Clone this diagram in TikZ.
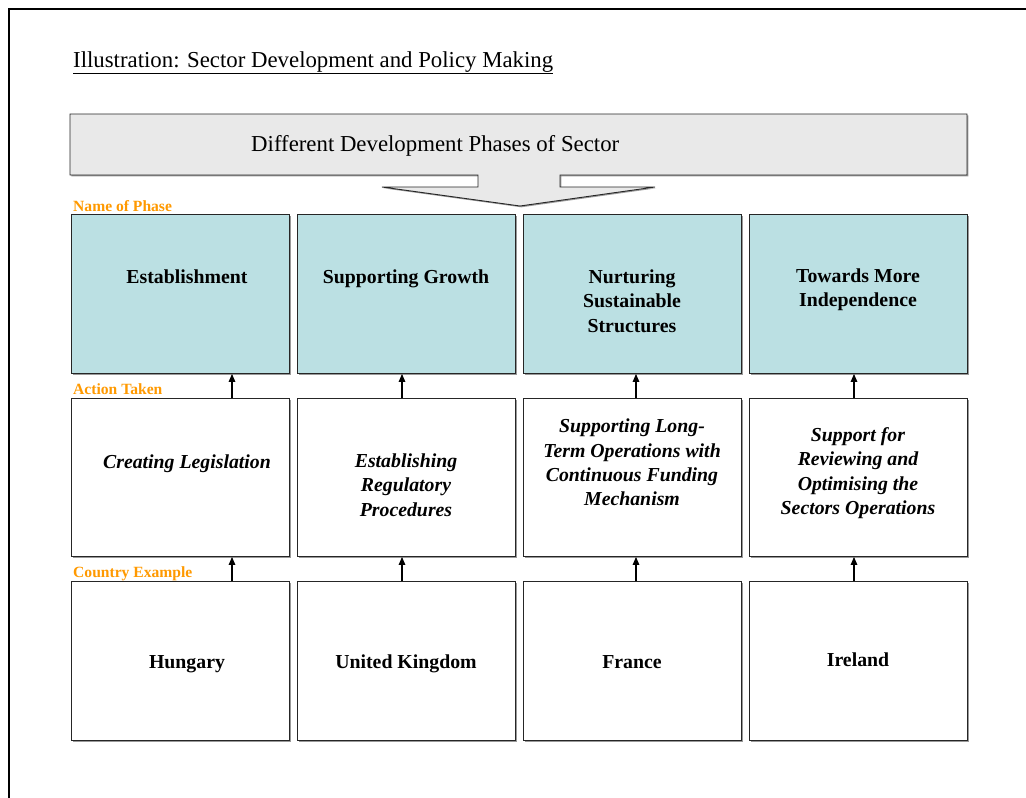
\documentclass[tikz,border=0pt]{standalone}
\usepackage{fontspec}
\setmainfont{Liberation Serif}
\usetikzlibrary{arrows.meta,shadows}
\definecolor{phasefill}{RGB}{187,224,227}
\definecolor{bannerfill}{RGB}{233,233,233}
\definecolor{lblorange}{RGB}{255,153,0}
\begin{document}
\begin{tikzpicture}[x=1pt,y=-1pt,
  box/.style={draw=black!85, line width=0.9pt, rectangle, inner sep=0pt,
    minimum width=218pt, anchor=north west,
    drop shadow={shadow xshift=1.3pt, shadow yshift=-1.3pt, fill=black!40, opacity=1}},
  phasebox/.style={box, fill=phasefill, minimum height=159pt},
  actbox/.style={box, fill=white, minimum height=158pt},
  ctrybox/.style={box, fill=white, minimum height=159pt},
  boldtxt/.style={font=\fontsize{19.8}{24.4}\selectfont\bfseries, align=center, inner sep=0pt},
  ittxt/.style={font=\fontsize{19.8}{24.4}\selectfont\bfseries\itshape, align=center, inner sep=0pt},
  lbl/.style={font=\fontsize{15.6}{18}\selectfont\bfseries, text=lblorange, anchor=base west, inner sep=0pt},
  arr/.style={line width=1.3pt, -{Triangle[length=8pt,width=6.5pt]}}
]
\useasboundingbox (0,0) rectangle (1026,798);
% outer frame
\draw[line width=1.6pt] (9,798) -- (9,9) -- (1026,9);
% title
\node[anchor=base west, inner sep=0pt, font=\fontsize{22.8}{26}\selectfont] (title) at (73,67)
  {\underline{Illustration: Sector Development and Policy Making}};
% banner callout
\draw[fill=bannerfill, draw=black!85, line width=0.9pt,
  drop shadow={shadow xshift=1.3pt, shadow yshift=-1.3pt, fill=black!40, opacity=1}]
  (70,114) -- (967,114) -- (967,175) -- (560,175) -- (560,187) -- (655,187)
  -- (520,206) -- (382,187) -- (478,187) -- (478,175) -- (70,175) -- cycle;
\node[anchor=base west, inner sep=0pt, font=\fontsize{22.8}{26}\selectfont] (banner) at (251,151)
  {Different Development Phases of Sector};
% labels
\node[lbl] (lphase) at (73,211) {Name of Phase};
\node[lbl] (laction) at (73,394) {Action Taken};
\node[lbl] (lcountry) at (73,577) {Country Example};
% boxes
\foreach \i/\x in {1/71,2/297,3/523,4/749}{
  \node[phasebox] (ph\i) at (\x,214) {};
  \node[actbox] (act\i) at (\x,398) {};
  \node[ctrybox] (ct\i) at (\x,581) {};
}
% phase texts
\node[boldtxt] (tph1) at (187,277) {Establishment};
\node[boldtxt] (tph2) at (406,279) {Supporting Growth};
\node[boldtxt] (tph3) at (632,301) {Nurturing\\Sustainable\\Structures};
\node[boldtxt] (tph4) at (858,290) {Towards More\\Independence};
% action texts
\node[ittxt] (tact1) at (187,464) {Creating Legislation};
\node[ittxt] (tact2) at (406,485) {Establishing\\Regulatory\\Procedures};
\node[ittxt] (tact3) at (632,462.5) {Supporting Long-\\Term Operations with\\Continuous Funding\\Mechanism};
\node[ittxt] (tact4) at (858,473) {Support for\\Reviewing and\\Optimising the\\Sectors Operations};
% country texts
\node[boldtxt] (tct1) at (187,664) {Hungary};
\node[boldtxt] (tct2) at (406,664) {United Kingdom};
\node[boldtxt] (tct3) at (632,662) {France};
\node[boldtxt] (tct4) at (858,660) {Ireland};
% arrows
\coordinate (ax1) at (232,0);
\coordinate (ax2) at (402,0);
\coordinate (ax3) at (636,0);
\coordinate (ax4) at (854,0);
\foreach \i in {1,2,3,4}{
  \draw[arr] (act\i.north -| ax\i) -- (ph\i.south -| ax\i);
  \draw[arr] (ct\i.north -| ax\i) -- (act\i.south -| ax\i);
}
\end{tikzpicture}
\end{document}
